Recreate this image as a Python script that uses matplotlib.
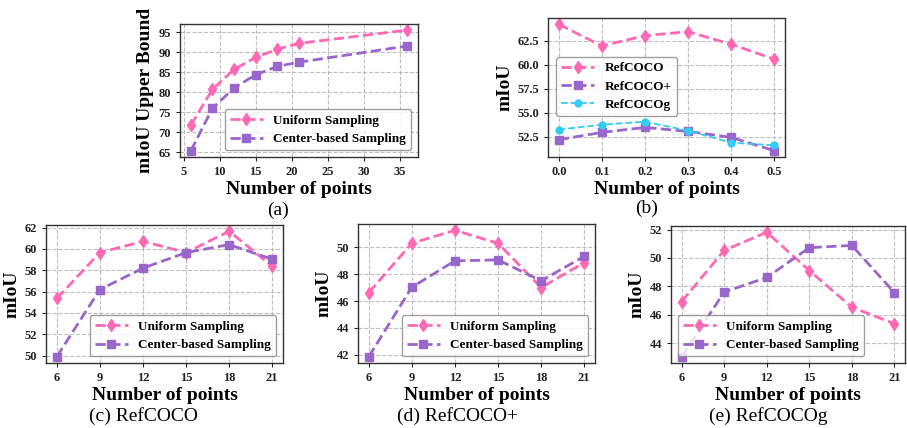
import matplotlib
matplotlib.use("Agg")
import matplotlib.pyplot as plt

plt.rcParams['font.family'] = ['Liberation Serif', 'DejaVu Serif']
plt.rcParams['font.weight'] = 'bold'

PINK = '#FF69B4'
PURPLE = '#9966CC'
CYAN = '#33CCF5'

# (a) mIoU upper bound
a_x = [6, 9, 12, 15, 18, 21, 36]
a_uniform = [71.75, 80.75, 85.75, 88.75, 90.8, 92.25, 95.6]
a_center = [65.3, 76.0, 81.1, 84.4, 86.5, 87.55, 91.6]

# (b) mIoU vs threshold
b_x = [0.0, 0.1, 0.2, 0.3, 0.4, 0.5]
b_refcoco = [64.24, 61.98, 63.06, 63.47, 62.15, 60.6]
b_refcocop = [52.19, 52.95, 53.47, 53.05, 52.43, 51.04]
b_refcocog = [53.24, 53.76, 54.07, 53.13, 51.88, 51.6]

# (c)(d)(e)
pts = [6, 9, 12, 15, 18, 21]
c_uniform = [55.36, 59.66, 60.72, 59.66, 61.66, 58.38]
c_center = [49.9, 56.2, 58.2, 59.66, 60.41, 59.04]
d_uniform = [46.63, 50.3, 51.26, 50.3, 47.0, 48.86]
d_center = [41.86, 47.03, 48.99, 49.06, 47.5, 49.33]
e_uniform = [46.92, 50.53, 51.81, 49.11, 46.52, 45.36]
e_center = [43.03, 47.59, 48.62, 50.72, 50.88, 47.55]

W, H = 907, 428
fig = plt.figure(figsize=(W / 100, H / 100), dpi=100)


def axes_px(left, right, top, bottom):
    return fig.add_axes([left / W, 1 - bottom / H, (right - left) / W, (bottom - top) / H])


TICK_FS = 9
LAB_FS = 14
LEG_FS = 9.5


def style(ax, ylabel):
    ax.grid(True, linestyle='--', color='#b0b0b0', linewidth=0.8, alpha=0.8)
    ax.set_axisbelow(True)
    for s in ax.spines.values():
        s.set_color('#333333')
        s.set_linewidth(1.0)
    ax.tick_params(labelsize=TICK_FS, colors='#222222', length=3)
    for lab in ax.get_xticklabels() + ax.get_yticklabels():
        lab.set_fontweight('bold')
    ax.set_xlabel('Number of points', fontsize=LAB_FS, fontweight='bold', labelpad=2)
    ax.set_ylabel(ylabel, fontsize=LAB_FS, fontweight='bold', labelpad=3)


def leg(ax, **kw):
    l = ax.legend(prop={'size': LEG_FS, 'weight': 'bold'}, handlelength=2.5,
                  labelspacing=0.45, edgecolor='#888888', framealpha=0.8, **kw)
    return l


def two_series(ax, x, u, c):
    ax.plot(x, u, linestyle='--', color=PINK, marker='d', markersize=6.5, linewidth=2,
            label='Uniform Sampling')
    ax.plot(x, c, linestyle='--', color=PURPLE, marker='s', markersize=5.5, linewidth=2,
            label='Center-based Sampling')


# (a)
ax = axes_px(180, 418, 24, 157)
two_series(ax, a_x, a_uniform, a_center)
ax.set_xticks([5, 10, 15, 20, 25, 30, 35])
ax.set_yticks([65, 70, 75, 80, 85, 90, 95])
style(ax, 'mIoU Upper Bound')
leg(ax, loc='lower right')

# (b)
ax = axes_px(548, 785, 18, 157)
ax.plot(b_x, b_refcoco, linestyle='--', color=PINK, marker='d', markersize=6.5, linewidth=2,
        label='RefCOCO')
ax.plot(b_x, b_refcocop, linestyle='--', color=PURPLE, marker='s', markersize=5.5, linewidth=2,
        label='RefCOCO+')
ax.plot(b_x, b_refcocog, linestyle='--', color=CYAN, marker='o', markersize=5, linewidth=1.3,
        label='RefCOCOg')
ax.set_xticks(b_x)
ax.set_xticklabels(['0.0', '0.1', '0.2', '0.3', '0.4', '0.5'])
ax.set_yticks([52.5, 55.0, 57.5, 60.0, 62.5])
ax.set_yticklabels(['52.5', '55.0', '57.5', '60.0', '62.5'])
style(ax, 'mIoU')
leg(ax, loc='upper left', bbox_to_anchor=(0.034, 0.72), borderaxespad=0)

# (c)
ax = axes_px(46, 283, 225, 363)
two_series(ax, pts, c_uniform, c_center)
ax.set_xticks(pts)
ax.set_yticks([50, 52, 54, 56, 58, 60, 62])
style(ax, 'mIoU')
leg(ax, loc='lower right')

# (d)
ax = axes_px(358, 595, 224, 363)
two_series(ax, pts, d_uniform, d_center)
ax.set_xticks(pts)
ax.set_yticks([42, 44, 46, 48, 50])
style(ax, 'mIoU')
leg(ax, loc='lower right')

# (e)
ax = axes_px(671, 905, 226, 363)
two_series(ax, pts, e_uniform, e_center)
ax.set_xticks(pts)
ax.set_yticks([44, 46, 48, 50, 52])
style(ax, 'mIoU')
leg(ax, loc='lower left')

CAP_FS = 14
fig.text(278 / W, 1 - 210 / H, '(a)', ha='center', va='center', fontsize=CAP_FS, fontweight='normal')
fig.text(647 / W, 1 - 208 / H, '(b)', ha='center', va='center', fontsize=CAP_FS, fontweight='normal')
fig.text(143 / W, 1 - 416 / H, '(c) RefCOCO', ha='center', va='center', fontsize=CAP_FS, fontweight='normal')
fig.text(457 / W, 1 - 416 / H, '(d) RefCOCO+', ha='center', va='center', fontsize=CAP_FS, fontweight='normal')
fig.text(768 / W, 1 - 416 / H, '(e) RefCOCOg', ha='center', va='center', fontsize=CAP_FS, fontweight='normal')

fig.savefig('out.png', dpi=100)
